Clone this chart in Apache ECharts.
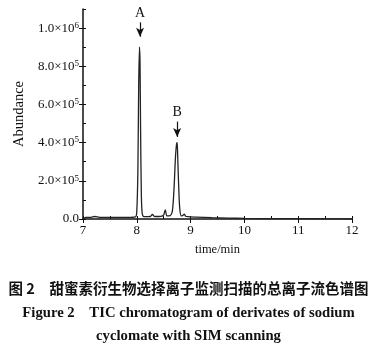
<!DOCTYPE html>
<html>
<head>
<meta charset="utf-8">
<script src="https://cdn.jsdelivr.net/npm/echarts@6/dist/echarts.min.js"></script>
<style>
  html, body { margin: 0; padding: 0; background: #fff; }
  #main { width: 377px; height: 351px; }
</style>
</head>
<body>
<div id="main"></div>
<script>
// retention time (min) and abundance
var times = [7.0, 7.05, 7.15, 7.22, 7.27, 7.32, 7.5, 7.7, 7.9, 7.98, 8.0, 8.02, 8.035, 8.05, 8.06, 8.07, 8.085, 8.1, 8.12, 8.15,
  8.25, 8.29, 8.33, 8.45, 8.5, 8.53, 8.56, 8.62, 8.66, 8.69, 8.72, 8.74, 8.75, 8.76, 8.78, 8.8, 8.83, 8.86, 8.88, 8.91, 8.95,
  9.1, 9.4, 9.7, 10.0, 10.5, 11.0, 11.5, 12.0];
var abundance = [0, 8000, 9000, 13000, 11000, 8000, 8000, 8000, 9000, 12000, 40000, 250000, 700000, 900000, 820000, 480000, 120000, 30000, 14000, 12000,
  13000, 24000, 13000, 14000, 22000, 48000, 16000, 18000, 40000, 150000, 330000, 395000, 400000, 330000, 160000, 50000, 16000, 20000, 26000, 14000, 12000,
  10000, 7000, 5000, 3000, 2000, 1500, 1000, 0];
var yTicks = [0, 200000, 400000, 600000, 800000, 1000000];
var xTicks = [7, 8, 9, 10, 11, 12];
var peakNames = ['A', 'B'];
var peakTimes = [8.06, 8.75];
var arrowTop = [1030000, 510000];
var arrowTip = [955000, 430000];

var serif = '"Liberation Serif", "DejaVu Serif", serif';

function yLabel(v) {
  if (v === 0) return '0.0';
  var e = Math.floor(Math.log10(v) + 1e-9);
  var m = v / Math.pow(10, e);
  return m.toFixed(1) + '×10{sup|' + e + '}';
}

var seriesData = times.map(function (t, i) { return [t, abundance[i]]; });

var arrows = peakNames.map(function (n, i) {
  return [
    { coord: [peakTimes[i], arrowTop[i]], name: n },
    { coord: [peakTimes[i], arrowTip[i]] }
  ];
});

var chart = echarts.init(document.getElementById('main'));
chart.setOption({
  animation: false,
  backgroundColor: '#fff',
  grid: { left: 83, right: 25, top: 9, bottom: 132, containLabel: false },
  xAxis: [{
    type: 'value', min: xTicks[0], max: xTicks[xTicks.length - 1], interval: 1,
    name: 'time/min', nameLocation: 'middle', nameGap: 24,
    nameTextStyle: { fontFamily: serif, fontSize: 12.5, color: '#111' },
    axisLine: { onZero: false, lineStyle: { color: '#111', width: 1.5 } },
    axisTick: { length: 4, lineStyle: { color: '#111' } },
    axisLabel: { fontFamily: serif, fontSize: 13, color: '#111', margin: 5 },
    splitLine: { show: false }
  }, {
    type: 'value', min: xTicks[0], max: xTicks[xTicks.length - 1], interval: 0.5,
    position: 'bottom',
    axisLine: { show: false },
    axisTick: { inside: true, length: 3, lineStyle: { color: '#111' } },
    axisLabel: { show: false },
    splitLine: { show: false }
  }],
  yAxis: [{
    type: 'value', min: 0, max: 1100000, interval: 200000,
    name: 'Abundance', nameLocation: 'middle', nameGap: 43,
    nameTextStyle: { fontFamily: serif, fontSize: 14.5, color: '#111' },
    axisLine: { show: true, lineStyle: { color: '#111', width: 1.5 } },
    axisTick: { show: true, length: 4, lineStyle: { color: '#111' } },
    axisLabel: {
      formatter: yLabel, fontFamily: serif, fontSize: 13, color: '#111', margin: 4,
      showMaxLabel: false,
      rich: { sup: { fontFamily: serif, fontSize: 9, verticalAlign: 'top', padding: [0, 0, 5, 0] } }
    },
    splitLine: { show: false }
  }, {
    type: 'value', min: 0, max: 1100000, interval: 100000,
    position: 'left',
    axisLine: { show: false },
    axisTick: { show: true, inside: true, length: 3, lineStyle: { color: '#111' } },
    axisLabel: { show: false },
    splitLine: { show: false }
  }],
  series: [{
    type: 'line',
    data: seriesData,
    showSymbol: false,
    smooth: 0.3,
    lineStyle: { color: '#222', width: 1.3 },
    markLine: {
      silent: true,
      symbol: ['none', 'arrow'],
      symbolSize: [6, 9],
      lineStyle: { color: '#111', width: 1.2, type: 'solid' },
      label: {
        show: true, position: 'start', formatter: '{b}', distance: 2,
        fontFamily: serif, fontSize: 14, color: '#111'
      },
      data: arrows
    }
  }],
  graphic: [{
    type: 'text', left: 'center', top: 281,
    style: {
      text: '图 2　甜蜜素衍生物选择离子监测扫描的总离子流色谱图',
      font: 'bold 14.5px "Noto Sans CJK SC"', fill: '#111'
    }
  }, {
    type: 'text', left: 'center', top: 306,
    style: {
      text: 'Figure 2    TIC chromatogram of derivates of sodium',
      font: 'bold 14.7px ' + serif, fill: '#111'
    }
  }, {
    type: 'text', left: 'center', top: 329,
    style: {
      text: 'cyclomate with SIM scanning',
      font: 'bold 14.7px ' + serif, fill: '#111'
    }
  }]
});
</script>
</body>
</html>
